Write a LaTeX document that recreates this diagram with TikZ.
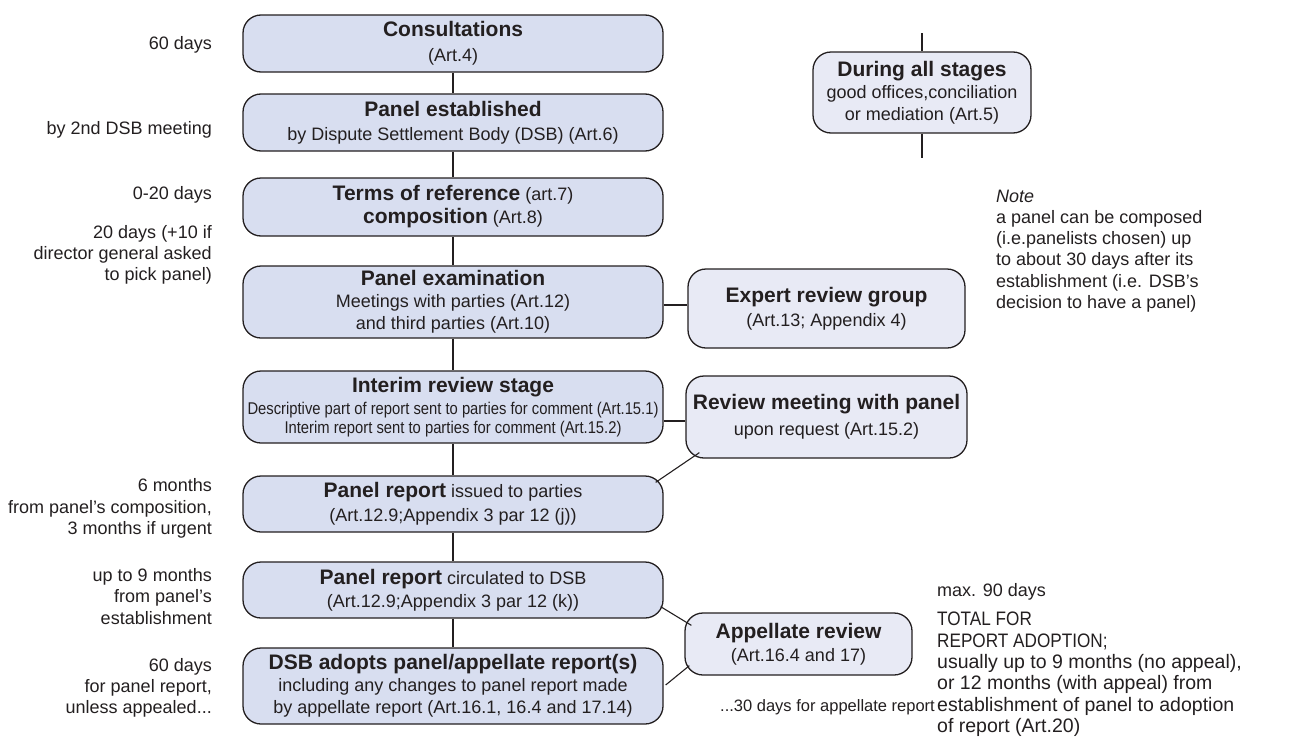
\documentclass[tikz,border=0pt]{standalone}
\usepackage{fontspec}
\setmainfont{Liberation Sans}
\usepackage{graphicx}
\usetikzlibrary{positioning}

\definecolor{stagefill}{RGB}{216,222,240}
\definecolor{sidefill}{RGB}{232,234,245}
\definecolor{inkgray}{RGB}{35,31,32}

\newcommand{\ttl}[1]{{\fontsize{21}{24}\selectfont\bfseries #1}}
\newcommand{\narrow}[1]{\scalebox{0.87}[1]{\fontsize{17}{19}\selectfont #1}}
\newcommand{\caps}[1]{\scalebox{0.88}[1]{#1}}

\begin{document}
\begin{tikzpicture}
[x=1pt, y=-1pt, text=inkgray]
\tikzset{
	stage/.style = {rectangle, rounded corners=18, draw=inkgray, line width=1.3, fill=stagefill, minimum width=420, align=center, inner sep=2, font=\fontsize{18}{22}\selectfont},
	side/.style = {stage, fill=sidefill},
	timing/.style = {anchor=east, align=right, inner sep=0, font=\fontsize{18}{21.3}\selectfont},
	remark/.style = {anchor=west, align=left, inner sep=0, font=\fontsize{18}{21.3}\selectfont},
	link/.style = {draw=inkgray, line width=1.1}
}
\useasboundingbox (0,0) rectangle (1289,744);

\node(consult) [stage, minimum height=57] at (453,43.5) {\ttl{Consultations}\\[3pt](Art.4)};
\node(established) [stage, minimum height=57] at (453,122.5) {\ttl{Panel established}\\[2pt]by Dispute Settlement Body (DSB) (Art.6)};
\node(terms) [stage, minimum height=58] at (453,207) {\ttl{Terms of reference} (art.7)\\[1pt]\ttl{composition} (Art.8)};
\node(exam) [stage, minimum height=72] at (453,302) {\ttl{Panel examination}\\Meetings with parties (Art.12)\\and third parties (Art.10)};
\node(interim) [stage, minimum height=72] at (453,407) {\ttl{Interim review stage}\\\narrow{Descriptive part of report sent to parties for comment (Art.15.1)}\\[-3pt]\narrow{Interim report sent to parties for comment (Art.15.2)}};
\node(issued) [stage, minimum height=56] at (453,504) {\ttl{Panel report} issued to parties\\[2pt](Art.12.9;Appendix 3 par 12 (j))};
\node(circulated) [stage, minimum height=56] at (453,590) {\ttl{Panel report} circulated to DSB\\[1pt](Art.12.9;Appendix 3 par 12 (k))};
\node(adopts) [stage, minimum height=76] at (453,686) {\ttl{DSB adopts panel/appellate report(s)}\\including any changes to panel report made\\by appellate report (Art.16.1, 16.4 and 17.14)};

\node(during) [side, minimum width=218, minimum height=81] at (922,92.5) {\ttl{During all stages}\\good offices,conciliation\\or mediation (Art.5)};
\node(expert) [side, minimum width=277, minimum height=79] at (826.5,308.5) {\ttl{Expert review group}\\[2pt](Art.13; Appendix 4)};
\node(review) [side, minimum width=281, minimum height=82] at (826.5,417) {\ttl{Review meeting with panel}\\[4pt]upon request (Art.15.2)};
\node(appellate) [side, minimum width=227, minimum height=62] at (798.5,644) {\ttl{Appellate review}\\[1pt](Art.16.4 and 17)};

\coordinate(alltop) at (922,33);
\coordinate(allbottom) at (922,158);

\node(t1) [timing] at (212,45) {60 days};
\node(t2) [timing] at (212,130) {by 2nd DSB meeting};
\node(t3) [timing] at (212,195) {0-20 days};
\node(t4) [timing] at (212,255) {20 days (+10 if\\director general asked\\to pick panel)};
\node(t5) [timing] at (212,508.5) {6 months\\from panel's composition,\\3 months if urgent};
\node(t6) [timing] at (212,596.5) {up to 9 months\\from panel's\\establishment};
\node(t7) [timing] at (212,688) {60 days\\for panel report,\\unless appealed...};

\node(note) [remark] at (996,251) {\textit{Note}\\a panel can be composed\\(i.e.panelists chosen) up\\to about 30 days after its\\establishment (i.e. DSB's\\decision to have a panel)};
\node(maxdays) [remark] at (937,592) {max. 90 days};
\node(total) [remark, font=\fontsize{19.5}{21.4}\selectfont] at (937,674.5) {\caps{TOTAL FOR}\\\caps{REPORT ADOPTION;}\\usually up to 9 months (no appeal),\\or 12 months (with appeal) from\\establishment of panel to adoption\\of report (Art.20)};
\node(appealdays) [remark, font=\fontsize{16.5}{20}\selectfont] at (720,707) {...30 days for appellate report};

\draw [link] (consult) -- (established);
\draw [link] (established) -- (terms);
\draw [link] (terms) -- (exam);
\draw [link] (exam) -- (interim);
\draw [link] (interim) -- (issued);
\draw [link] (issued) -- (circulated);
\draw [link] (circulated) -- (adopts);
\draw [link] (alltop) -- (during);
\draw [link] (during) -- (allbottom);
\draw [link] ([yshift=-3]exam.east) -- ([yshift=-3]exam.east -| expert.west);
\draw [link] ([yshift=-14]interim.east) -- ([yshift=-14]interim.east -| review.west);
\draw [link] ([xshift=-8,yshift=-7]issued.north east) -- ([xshift=14,yshift=6]review.south west);
\draw [link] ([xshift=-3,yshift=12]circulated.south east) -- ([xshift=7,yshift=-13]appellate.north west);
\draw [link] ([xshift=2,yshift=1]adopts.east) -- ([xshift=5,yshift=10]appellate.south west);
\end{tikzpicture}
\end{document}
